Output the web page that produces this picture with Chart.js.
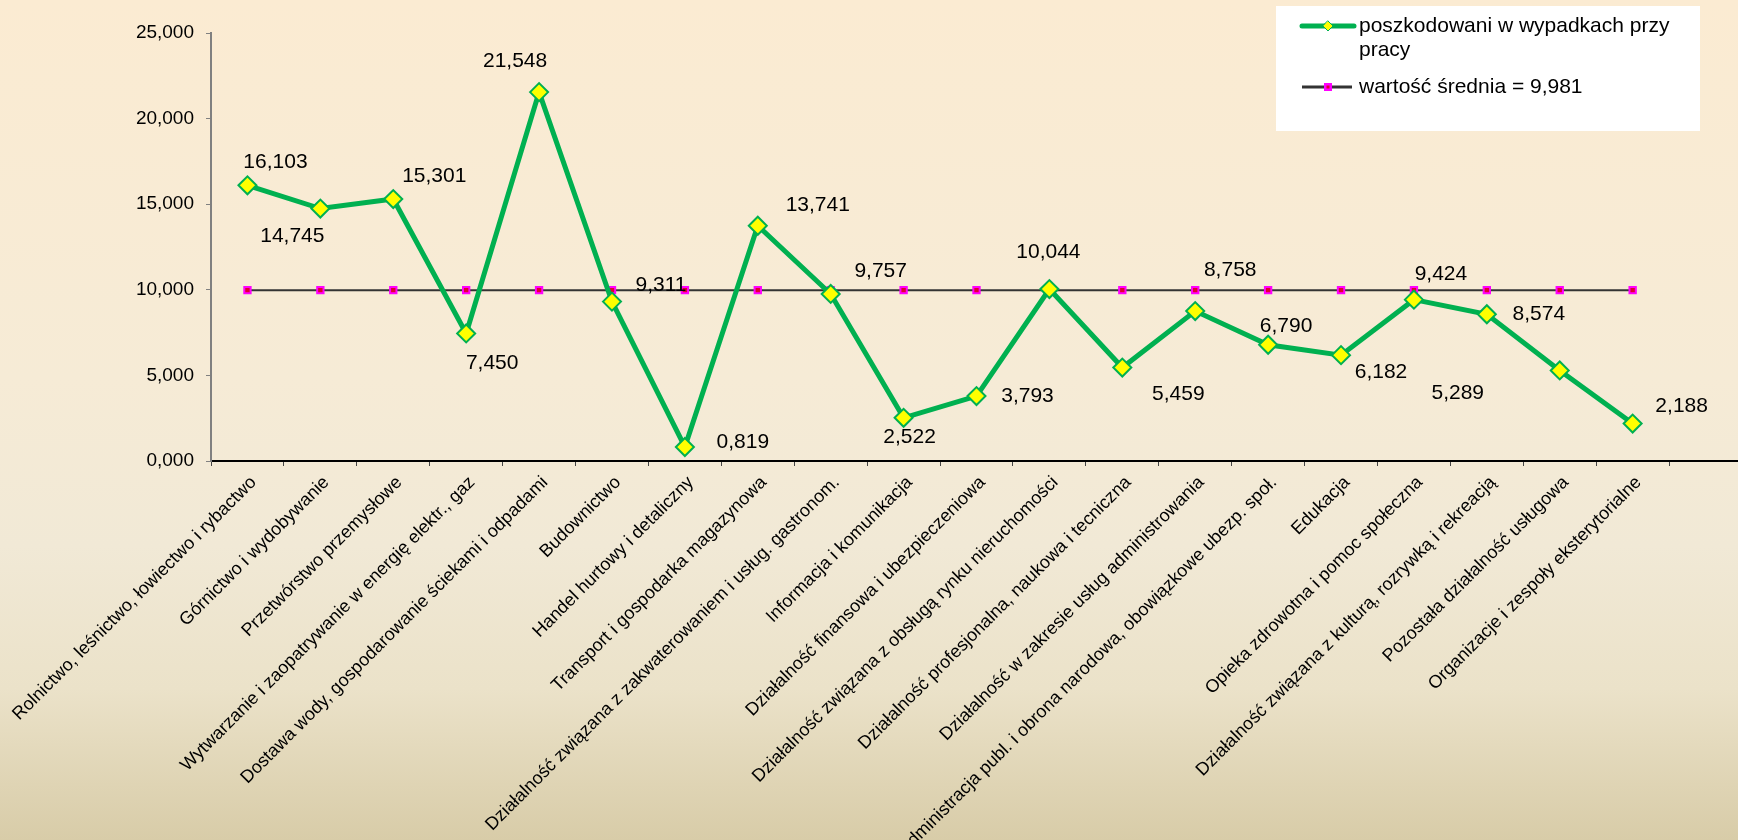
<!DOCTYPE html>
<html lang="pl">
<head>
<meta charset="utf-8">
<title>Poszkodowani w wypadkach przy pracy</title>
<script src="https://cdn.jsdelivr.net/npm/chart.js@4.4.1/dist/chart.umd.min.js"></script>
<style>
  html, body { margin: 0; padding: 0; overflow: hidden; }
  body {
    width: 1738px;
    height: 840px;
    background: linear-gradient(to bottom, #fbebd2 0%, #f6ebd6 45%, #f1e9d6 65%, #ebe2c9 82%, #d8cca8 100%);
    font-family: "Liberation Sans", Arial, sans-serif;
  }
  #wrap { position: absolute; left: 0; top: 0; width: 1760px; height: 840px; }
</style>
</head>
<body>
<div id="wrap"><canvas id="accidentsChart"></canvas></div>
<script>
// Categories (last one is an empty slot, the axis runs past the last point)
const categories = [
  "Rolnictwo, leśnictwo, łowiectwo i rybactwo",
  "Górnictwo i wydobywanie",
  "Przetwórstwo przemysłowe",
  "Wytwarzanie i zaopatrywanie w energię elektr., gaz",
  "Dostawa wody, gospodarowanie ściekami i odpadami",
  "Budownictwo",
  "Handel hurtowy i detaliczny",
  "Transport i gospodarka magazynowa",
  "Działalność związana z zakwaterowaniem i usług. gastronom.",
  "Informacja i komunikacja",
  "Działalność finansowa i ubezpieczeniowa",
  "Działalność związana z obsługą rynku nieruchomości",
  "Działalność profesjonalna, naukowa i tecniczna",
  "Działalność w zakresie usług administrowania",
  "Administracja publ. i obrona narodowa, obowiązkowe ubezp. społ.",
  "Edukacja",
  "Opieka zdrowotna i pomoc społeczna",
  "Działalność związana z kulturą, rozrywką i rekreacją",
  "Pozostała działalność usługowa",
  "Organizacje i zespoły eksterytorialne",
  ""
];

// Series values
const injuredValues = [
  16.103, 14.745, 15.301, 7.450, 21.548, 9.311, 0.819, 13.741, 9.757, 2.522,
  3.793, 10.044, 5.459, 8.758, 6.790, 6.182, 9.424, 8.574, 5.289, 2.188
];
const averageValues = [
  9.981, 9.981, 9.981, 9.981, 9.981, 9.981, 9.981, 9.981, 9.981, 9.981,
  9.981, 9.981, 9.981, 9.981, 9.981, 9.981, 9.981, 9.981, 9.981, 9.981
];

// Series names
const injuredLabel = "poszkodowani w wypadkach przy pracy";
const averageLabel = "wartość średnia = 9,981";

// Y axis ticks
const yTicks = [0, 5, 10, 15, 20, 25];

// Value label offsets (px) relative to each point
const labelOffsets = [
  [28, -23], [-28, 28], [41, -23], [26, 30], [-24, -31],
  [49, -16], [58, -5], [60, -21], [50, -23], [6, 19],
  [51, 0], [-1, -37], [56, 27], [35, -41], [18, -19],
  [40, 17], [27, -25], [52, 0], [-102, 23], [49, -17]
];

const FONT = '"Liberation Sans", Arial, sans-serif';
const GREEN = "#00b050";

// Format number Polish style: 16,103
function formatValue(value) {
  return Number(value).toFixed(3).replace(".", ",");
}

// Value labels next to the green points
const valueLabelsPlugin = {
  id: "valueLabels",
  afterDatasetsDraw(chart) {
    const ctx = chart.ctx;
    const meta = chart.getDatasetMeta(0);
    ctx.save();
    ctx.font = "21px " + FONT;
    ctx.fillStyle = "#000";
    ctx.textAlign = "center";
    ctx.textBaseline = "middle";
    meta.data.forEach((pt, i) => {
      const off = labelOffsets[i] || [0, -20];
      ctx.fillText(formatValue(injuredValues[i]), pt.x + off[0], pt.y + off[1]);
    });
    ctx.restore();
  }
};

// Wrap text into lines no wider than maxWidth
function wrapText(ctx, text, maxWidth) {
  const words = text.split(" ");
  const lines = [];
  let line = "";
  words.forEach((w) => {
    const test = line ? line + " " + w : w;
    if (ctx.measureText(test).width > maxWidth && line) {
      lines.push(line);
      line = w;
    } else {
      line = test;
    }
  });
  if (line) lines.push(line);
  return lines;
}

// Legend box in the top right corner
const boxLegendPlugin = {
  id: "boxLegend",
  afterDraw(chart) {
    const ctx = chart.ctx;
    const box = { x: 1276, y: 6, w: 424, h: 125 };
    ctx.save();
    ctx.fillStyle = "#ffffff";
    ctx.fillRect(box.x, box.y, box.w, box.h);

    ctx.font = "21px " + FONT;
    ctx.fillStyle = "#000";
    ctx.textAlign = "left";
    ctx.textBaseline = "middle";

    // green series
    const y1 = 26;
    ctx.strokeStyle = GREEN;
    ctx.lineWidth = 5;
    ctx.lineCap = "round";
    ctx.beginPath();
    ctx.moveTo(1302, y1);
    ctx.lineTo(1354, y1);
    ctx.stroke();
    ctx.beginPath();
    ctx.moveTo(1328, y1 - 5);
    ctx.lineTo(1333, y1);
    ctx.lineTo(1328, y1 + 5);
    ctx.lineTo(1323, y1);
    ctx.closePath();
    ctx.fillStyle = "#ffff00";
    ctx.fill();
    ctx.lineWidth = 1;
    ctx.strokeStyle = GREEN;
    ctx.stroke();

    ctx.fillStyle = "#000";
    const lines = wrapText(ctx, chart.data.datasets[0].label, 330);
    lines.forEach((l, i) => ctx.fillText(l, 1359, y1 + i * 24));

    // average series
    const y2 = 87;
    ctx.strokeStyle = "#333333";
    ctx.lineWidth = 3;
    ctx.lineCap = "butt";
    ctx.beginPath();
    ctx.moveTo(1302, y2);
    ctx.lineTo(1352, y2);
    ctx.stroke();
    ctx.fillStyle = "#ff00ff";
    ctx.fillRect(1324, y2 - 4, 8, 8);
    ctx.fillStyle = "#e00030";
    ctx.fillRect(1326.5, y2 - 1.5, 3, 3);

    ctx.fillStyle = "#000";
    ctx.fillText(chart.data.datasets[1].label, 1359, y2);
    ctx.restore();
  }
};

document.addEventListener("DOMContentLoaded", function () {
  const ctx = document.getElementById("accidentsChart").getContext("2d");

  new Chart(ctx, {
    type: "line",
    data: {
      labels: categories,
      datasets: [
        {
          label: injuredLabel,
          data: injuredValues,
          borderColor: GREEN,
          borderWidth: 5,
          tension: 0,
          fill: false,
          pointStyle: "rectRot",
          pointRadius: 9,
          pointBorderWidth: 2,
          pointBackgroundColor: "#ffff00",
          pointBorderColor: GREEN
        },
        {
          label: averageLabel,
          data: averageValues,
          borderColor: "#333333",
          borderWidth: 2,
          tension: 0,
          fill: false,
          pointStyle: "rect",
          pointRadius: 4.5,
          pointBorderWidth: 2,
          pointBackgroundColor: "#e00030",
          pointBorderColor: "#ff00ff"
        }
      ]
    },
    options: {
      responsive: true,
      maintainAspectRatio: false,
      animation: false,
      layout: { padding: { top: 33, left: 0, right: 18, bottom: 0 } },
      plugins: {
        legend: { display: false },
        tooltip: { enabled: false }
      },
      scales: {
        x: {
          type: "category",
          offset: true,
          grid: {
            offset: true,
            drawOnChartArea: false,
            drawTicks: true,
            tickLength: 5,
            color: "#444444"
          },
          border: { display: true, color: "#000000", width: 2 },
          ticks: {
            autoSkip: false,
            maxRotation: 45,
            minRotation: 45,
            padding: 6,
            labelOffset: 6,
            color: "#000000",
            font: { family: FONT, size: 18 }
          },
          afterFit: function (axis) {
            axis.height = 379;
            axis.paddingLeft = 0;
            axis.paddingRight = 0;
          }
        },
        y: {
          min: 0,
          max: 25,
          grid: {
            drawOnChartArea: false,
            drawTicks: true,
            tickLength: 5,
            color: "#808080"
          },
          border: { display: true, color: "#808080", width: 2 },
          afterBuildTicks: function (axis) {
            axis.ticks = yTicks.map((v) => ({ value: v }));
          },
          ticks: {
            padding: 12,
            color: "#000000",
            font: { family: FONT, size: 19 },
            callback: function (value) {
              return formatValue(value);
            }
          },
          afterFit: function (axis) {
            axis.width = 211;
            axis.paddingTop = 0;
            axis.paddingBottom = 0;
          }
        }
      }
    },
    plugins: [valueLabelsPlugin, boxLegendPlugin]
  });
});
</script>
</body>
</html>
